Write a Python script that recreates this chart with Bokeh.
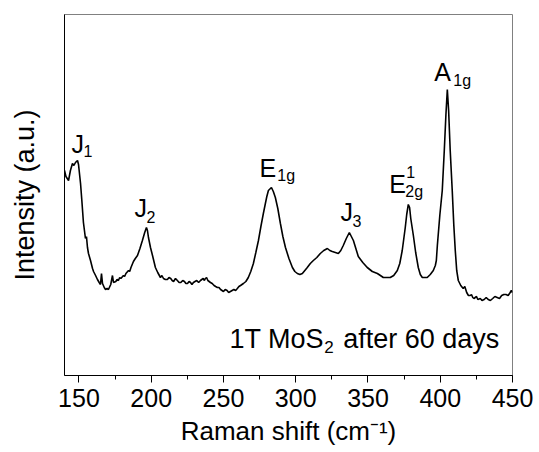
from bokeh.plotting import figure
from bokeh.models import Range1d, SingleIntervalTicker, FixedTicker, ColumnDataSource
from bokeh.core.properties import value
from bokeh.embed import file_html
from bokeh.resources import INLINE

# ---- data ----
raman_shift = [
    140.0, 141.0, 142.8, 144.1, 145.5, 146.5, 147.6, 149.0, 149.7, 151.1,
    152.0, 153.1, 154.5, 155.2, 155.9, 156.6, 158.0, 159.4, 160.1, 161.5,
    162.8, 164.0, 164.9, 165.6, 166.3, 167.5, 168.4, 169.5, 170.4, 172.0,
    173.2, 173.9, 175.5, 176.4, 177.3, 178.2, 179.0, 180.8, 181.6, 182.5,
    184.3, 185.1, 186.0, 187.7, 189.0, 190.5, 192.2, 193.9, 195.5, 196.7,
    197.4, 198.1, 199.5, 200.9, 202.9, 204.5, 206.4, 207.4, 208.5, 209.8,
    211.2, 212.3, 213.5, 214.5, 215.5, 216.8, 218.1, 219.3, 220.5, 221.8,
    223.0, 224.0, 225.1, 226.2, 227.2, 228.2, 229.2, 230.3, 231.5, 232.8,
    234.1, 235.0, 236.0, 236.8, 237.5, 238.3, 239.2, 240.1, 241.0, 242.2,
    243.5, 244.6, 245.8, 246.9, 248.0, 249.0, 250.0, 251.2, 252.5, 253.6,
    254.8, 256.0, 257.2, 258.4, 259.6, 260.7, 261.8, 263.8, 265.5, 267.2,
    268.9, 270.7, 272.4, 274.2, 275.9, 277.6, 279.0, 280.0, 281.1, 283.2,
    284.5, 285.9, 287.6, 289.4, 291.1, 292.9, 295.3, 297.7, 299.4, 301.1,
    302.9, 304.6, 306.3, 308.0, 310.1, 312.2, 314.6, 317.0, 319.4, 321.9,
    323.6, 325.3, 327.4, 329.5, 331.2, 332.9, 335.0, 337.1, 338.5, 339.9,
    341.6, 343.3, 346.4, 349.5, 353.0, 356.5, 358.6, 360.6, 363.0, 365.4,
    367.8, 370.3, 372.0, 373.7, 374.8, 375.8, 376.8, 377.9, 378.8, 379.6,
    381.4, 383.0, 384.8, 386.2, 387.6, 389.3, 391.0, 393.1, 395.2, 396.6,
    397.3, 398.0, 399.7, 401.4, 402.8, 403.9, 404.9, 405.8, 406.9, 408.3,
    409.4, 410.4, 411.4, 412.5, 414.2, 415.9, 417.0, 418.3, 419.5, 420.8,
    421.6, 422.5, 423.3, 424.2, 425.1, 426.0, 427.7, 428.9, 430.4, 431.8,
    433.2, 434.7, 436.3, 437.8, 439.4, 441.0, 442.5, 444.0, 445.5, 447.0,
    448.4, 449.2, 450.0,
]
intensity = [
    205, 199, 195, 205, 212, 210, 213, 215, 211, 192,
    175, 153, 137, 139, 128, 122, 115, 107, 104, 100,
    96, 93, 91, 102, 92, 88, 86, 87, 86, 91,
    100, 93, 94, 96, 95, 98, 97, 100, 99, 102,
    105, 104, 108, 114, 117, 120, 127, 135, 143, 148,
    145, 138, 128, 120, 108, 103, 98, 100, 97, 96,
    96, 98, 97, 95, 94, 97, 95, 93, 93, 95,
    94, 92, 92, 94, 93, 91, 93, 94, 95, 93,
    95, 96, 97, 95, 97, 98, 95, 94, 93, 92,
    90, 89, 88, 88, 86, 85, 84, 86, 85, 83,
    84, 85, 86, 85, 87, 89, 90, 92, 94, 98,
    104, 112, 123, 135, 149, 162, 172, 179, 185, 188,
    184, 178, 167, 152, 139, 128, 117, 108, 104, 102,
    101, 102, 105, 108, 112, 115, 118, 122, 125, 127,
    125, 124, 123, 122, 125, 130, 137, 143, 139, 135,
    127, 119, 113, 108, 104, 102, 100, 98, 98, 98,
    100, 105, 112, 125, 137, 148, 161, 171, 168, 157,
    140, 123, 108, 101, 98, 98, 98, 101, 105, 110,
    115, 130, 160, 185, 225, 260, 286, 265, 225, 185,
    150, 125, 105, 95, 90, 87, 89, 83, 80, 80,
    81, 78, 77, 78, 79, 76, 77, 75, 76, 78,
    76, 75, 77, 79, 78, 77, 80, 81, 81, 80,
    83, 85, 83,
]
x_ticks = [150, 200, 250, 300, 350, 400, 450]

# peak labels: main text, subscript, superscript
peak_main = ["J", "J", "E", "J", "E", "A"]
peak_sub = ["1", "2", "1g", "3", "2g", "1g"]
peak_sup = ["1"]
peak_x = [144.8, 188.4, 274.9, 330.9, 364.8, 395.9]
peak_y = [232, 168, 208, 164, 192, 304]
sub_x = [153.1, 196.7, 287.3, 339.2, 375.8, 409.0]
sub_y = [225, 159, 200, 155, 184, 295]
sup_x = [376.5]
sup_y = [204]

# sample annotation: "1T MoS2 after 60 days"
ann_parts = ["1T MoS", "2", "after 60 days"]
ann_x = [254.1, 319.8, 332.9]
ann_y = [37, 29, 37]

FONT = "Liberation Sans"

p = figure(width=539, height=452, output_backend="svg", toolbar_location=None,
           x_range=Range1d(140, 450), y_range=Range1d(0, 361),
           min_border_left=64, min_border_right=27, min_border_top=14,
           min_border_bottom=77)
p.background_fill_color = "white"
p.border_fill_color = "white"
p.outline_line_color = "#808080"
p.outline_line_width = 1
p.grid.visible = False

p.line(raman_shift, intensity, line_color="black", line_width=1.6)

# x axis
xa = p.xaxis[0]
xa.ticker = SingleIntervalTicker(interval=50, num_minor_ticks=2)
xa.axis_label = "Raman shift (cm\u207b\u00b9)"
xa.axis_label_text_font = FONT
xa.axis_label_text_font_size = "26px"
xa.axis_label_text_font_style = "normal"
xa.axis_label_text_color = "black"
xa.axis_label_standoff = 6
xa.major_label_text_font = FONT
xa.major_label_text_font_size = "25px"
xa.major_label_text_color = "black"
xa.major_label_standoff = 6
xa.major_tick_in = 0
xa.major_tick_out = 7
xa.minor_tick_in = 0
xa.minor_tick_out = 4
xa.axis_line_color = "black"
xa.major_tick_line_color = "black"
xa.minor_tick_line_color = "black"

# y axis (no ticks)
ya = p.yaxis[0]
ya.ticker = FixedTicker(ticks=[])
ya.major_tick_in = 0
ya.major_tick_out = 0
ya.minor_tick_in = 0
ya.minor_tick_out = 0
ya.major_label_standoff = 0
ya.axis_label = "Intensity (a.u.)"
ya.axis_label_text_font = FONT
ya.axis_label_text_font_size = "27px"
ya.axis_label_text_font_style = "normal"
ya.axis_label_text_color = "black"
ya.axis_label_standoff = 25
ya.axis_line_color = "black"

# peak labels
src_main = ColumnDataSource(dict(x=peak_x, y=peak_y, t=peak_main))
src_sub = ColumnDataSource(dict(x=sub_x, y=sub_y, t=peak_sub))
src_sup = ColumnDataSource(dict(x=sup_x, y=sup_y, t=peak_sup))
p.text(x="x", y="y", text="t", source=src_main, text_font=value(FONT),
       text_font_size=value("25px"), text_baseline="alphabetic", text_align="left",
       text_color="black")
p.text(x="x", y="y", text="t", source=src_sub, text_font=value(FONT),
       text_font_size=value("16px"), text_baseline="alphabetic", text_align="left",
       text_color="black")
p.text(x="x", y="y", text="t", source=src_sup, text_font=value(FONT),
       text_font_size=value("16px"), text_baseline="alphabetic", text_align="left",
       text_color="black")

ann_size = ["27px", "17px", "27px"]
p.text(x=ann_x, y=ann_y, text=ann_parts, text_font=value(FONT),
       text_font_size=ann_size, text_baseline="alphabetic", text_align="left",
       text_color="black")

open("out.html", "w").write(file_html(p, INLINE))
